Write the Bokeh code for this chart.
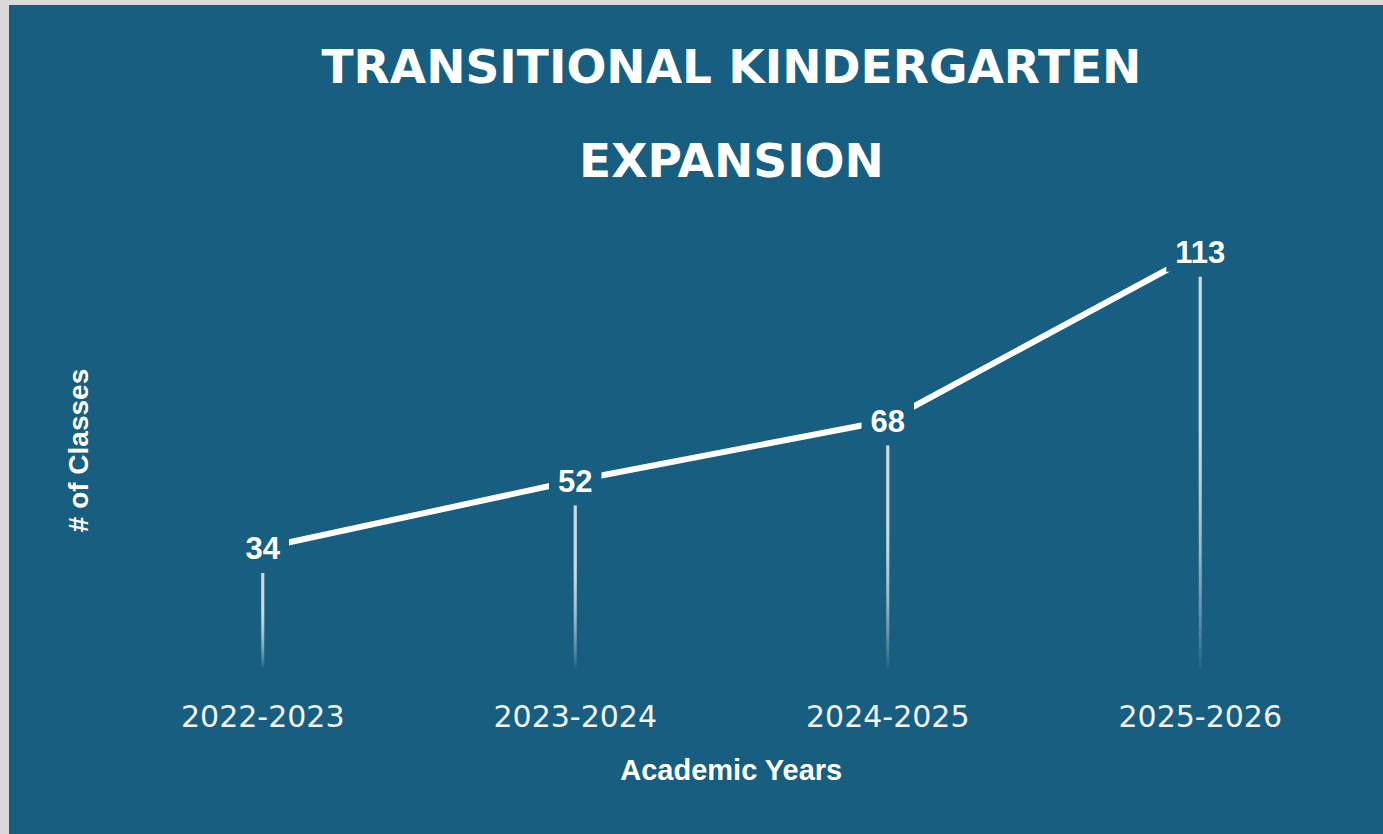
from bokeh.plotting import figure
from bokeh.models import FactorRange, Range1d, FixedTicker, ColumnDataSource, Title
from bokeh.layouts import column
from bokeh.core.properties import value
from bokeh.embed import file_html
from bokeh.resources import INLINE

# ---- data ----
years = ["2022-2023", "2023-2024", "2024-2025", "2025-2026"]
classes = [34, 52, 68, 113]
title_line1 = "TRANSITIONAL KINDERGARTEN"
title_line2 = "EXPANSION"
x_title = "Academic Years"
y_title = "# of Classes"

BG = "#175E81"
WHITE = "#FFFFFF"

Y_MAX = 120
px_per_unit = 450 / Y_MAX

p = figure(
    width=1374, height=829,
    x_range=FactorRange(*years, range_padding=0),
    y_range=Range1d(0, Y_MAX),
    output_backend="svg", toolbar_location=None,
    background_fill_color=BG, border_fill_color=BG,
    outline_line_color=None, title=None,
    min_border_left=97, min_border_right=27,
    min_border_top=220, min_border_bottom=159,
)
p.grid.visible = False

# title (two centred lines)
for txt, so in [(title_line2, 75), (title_line1, 0)]:
    t = Title(text=txt, align="center", offset=-28, text_color=WHITE,
              text_font="DejaVu Sans", text_font_style="bold",
              text_font_size="47px", standoff=so, text_line_height=1.0)
    p.add_layout(t, "above")

# x axis
xa = p.xaxis[0]
xa.axis_line_color = None
xa.major_tick_line_color = None
xa.minor_tick_line_color = None
xa.major_tick_out = 0
xa.major_label_text_color = "#F2F2F2"
xa.major_label_text_font = "DejaVu Sans"
xa.major_label_text_font_size = "30px"
xa.major_label_standoff = 29
xa.axis_label = x_title
xa.axis_label_text_color = WHITE
xa.axis_label_text_font = "Liberation Sans"
xa.axis_label_text_font_style = "bold"
xa.axis_label_text_font_size = "29px"
xa.axis_label_standoff = 24

# y axis
ya = p.yaxis[0]
ya.ticker = FixedTicker(ticks=[])
ya.axis_line_color = None
ya.major_tick_line_color = None
ya.minor_tick_line_color = None
ya.major_tick_out = 0
ya.axis_label = y_title
ya.axis_label_text_color = WHITE
ya.axis_label_text_font = "Liberation Sans"
ya.axis_label_text_font_style = "bold"
ya.axis_label_text_font_size = "28px"
ya.axis_label_standoff = 13

# drop lines: overlapping translucent segments give a smooth fade to the bottom
gap = 25 / px_per_unit
bottom = 2.0
N = 24
alpha_each = 1 - (1 - 0.8) ** (1.0 / N)
xs0, ys0, ys1 = [], [], []
for yr, v in zip(years, classes):
    top = v - gap
    fade = 0.6 * (top - bottom)
    for i in range(N):
        xs0.append(yr)
        ys0.append(top)
        ys1.append(bottom + fade * i / (N - 1))
drop_src = ColumnDataSource(dict(x=xs0, y0=ys0, y1=ys1))
p.segment(x0="x", y0="y0", x1="x", y1="y1", source=drop_src,
          line_color=WHITE, line_alpha=alpha_each, line_width=3, line_cap="butt")

# main line
src = ColumnDataSource(dict(x=years, y=classes, lab=[str(c) for c in classes]))
p.line("x", "y", source=src, line_color=WHITE, line_width=6)

# value labels with background (break the line)
p.text("x", "y", text="lab", source=src,
       text_align="center", text_baseline="middle",
       text_color=WHITE, text_font=value("Liberation Sans"),
       text_font_style="bold", text_font_size="31px",
       background_fill_color=BG, padding=9)

layout = column(p, styles={"background-color": BG,
                           "border-top": "5px solid #D9D9D9",
                           "border-left": "9px solid #D9D9D9"})

open("out.html", "w").write(file_html(layout, INLINE))
